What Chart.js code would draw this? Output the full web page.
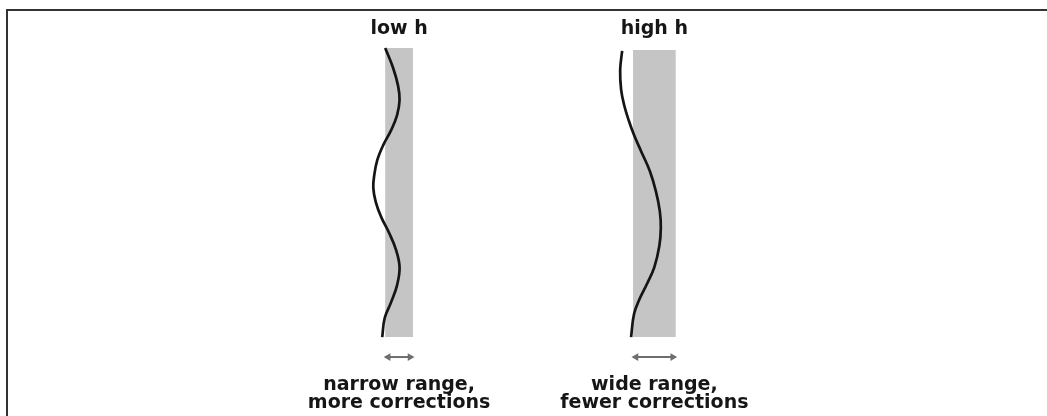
<!DOCTYPE html>
<html>
<head>
<meta charset="utf-8">
<script src="https://cdn.jsdelivr.net/npm/chart.js@4.4.1/dist/chart.umd.min.js"></script>
<style>
  html, body { margin: 0; padding: 0; background: #fff; }
  #frame { position: absolute; left: 6px; top: 9px; width: 1041px; height: 407px; border-top: 2px solid #333; border-left: 2px solid #333; box-sizing: border-box; }
  #chart { position: absolute; left: 0; top: 0; }
</style>
</head>
<body>
<div id="frame"></div>
<canvas id="chart" width="1047" height="416"></canvas>
<script>
// titres au dessus de chaque bande
const panelLabels = ['low h', 'high h'];
// legendes sous les fleches (2 lignes chacune)
const rangeLabels = [['narrow range,', 'more corrections'], ['wide range,', 'fewer corrections']];

// bande grise : bords en x, haut en y (0 = bas de la bande)
const bandLeft = [384, 634];
const bandRight = [412, 677];
const bandTop = [100, 99.3];

// courbe "low h" : position le long de la bande + ecart au bord gauche
const lowPos = [100, 93.1, 86.9, 82.0, 76.8, 71.6, 66.4, 61.2, 56.1, 51.6, 46.7, 41.5, 36.0, 30.1, 24.2, 18.0, 12.1, 6.6, 0];
const lowDev = [0, 8, 13, 14.5, 12, 6, -2, -8, -11, -12, -9.5, -4, 4, 11, 14.5, 12, 6, -0.5, -3];

// courbe "high h"
const highPos = [99.0, 92.4, 85.5, 80.3, 75.1, 69.9, 64.4, 57.4, 50.5, 43.6, 37.7, 31.5, 24.2, 18.7, 13.5, 8.0, 0];
const highDev = [-11, -13, -12, -9, -4.5, 1, 8, 17, 23, 27, 28, 26.5, 21.5, 14.5, 7, 1, -2];

// niveau des fleches (sous la bande)
const arrowLevel = -6.9;

const bandCenters = bandLeft.map((l, i) => (l + bandRight[i]) / 2);

function bandShape(i) {
  return [
    { x: bandLeft[i], y: 0 },
    { x: bandLeft[i], y: bandTop[i] },
    { x: bandRight[i], y: bandTop[i] },
    { x: bandRight[i], y: 0 }
  ];
}
function curve(pos, dev, i) {
  return pos.map((p, k) => ({ x: bandLeft[i] + dev[k], y: p }));
}
function arrow(i) {
  return [{ x: bandLeft[i] + 3, y: arrowLevel }, { x: bandRight[i] - 3, y: arrowLevel }];
}

const bandStyle = { fill: 'shape', backgroundColor: '#c5c5c5', borderWidth: 0, pointRadius: 0, tension: 0, order: 3, clip: false };
const curveStyle = { borderColor: '#151515', borderWidth: 2.7, pointRadius: 0, tension: 0.4, fill: false, order: 1, clip: false };
const arrowStyle = {
  borderColor: '#6e6e6e', borderWidth: 2, fill: false, order: 2, clip: false,
  pointStyle: 'triangle', pointRadius: 4.5, pointRotation: [-90, 90],
  pointBackgroundColor: '#6e6e6e', pointBorderWidth: 0
};

Chart.defaults.font.family = '"DejaVu Sans", Verdana, sans-serif';

const labelFont = { size: 19, weight: 'bold', lineHeight: 0.97 };

const ctx = document.getElementById('chart').getContext('2d');
const chart = new Chart(ctx, {
  type: 'line',
  data: {
    datasets: [
      { ...bandStyle, data: bandShape(0) },
      { ...bandStyle, data: bandShape(1) },
      { ...curveStyle, data: curve(lowPos, lowDev, 0) },
      { ...curveStyle, data: curve(highPos, highDev, 1) },
      { ...arrowStyle, data: arrow(0) },
      { ...arrowStyle, data: arrow(1) }
    ]
  },
  options: {
    responsive: false,
    animation: false,
    layout: { padding: 0 },
    plugins: { legend: { display: false }, tooltip: { enabled: false } },
    scales: {
      x: {
        type: 'linear', min: 0, max: 1047,
        grid: { display: false, drawTicks: false, tickLength: 0 },
        border: { display: false },
        afterBuildTicks: s => { s.ticks = bandCenters.map(v => ({ value: v })); },
        afterFit: s => { s.height = 50; },
        ticks: { padding: 9.8, maxRotation: 0, color: '#161616', font: labelFont, callback: (v, i) => rangeLabels[i] }
      },
      x2: {
        type: 'linear', position: 'top', min: 0, max: 1047,
        grid: { display: false, drawTicks: false, tickLength: 0 },
        border: { display: false },
        afterBuildTicks: s => { s.ticks = bandCenters.map(v => ({ value: v })); },
        afterFit: s => { s.height = 37.9; },
        ticks: { padding: 0, maxRotation: 0, color: '#161616', font: labelFont, callback: (v, i) => panelLabels[i] }
      },
      y: { display: false, min: -10, max: 103.5 }
    }
  }
});
</script>
</body>
</html>
